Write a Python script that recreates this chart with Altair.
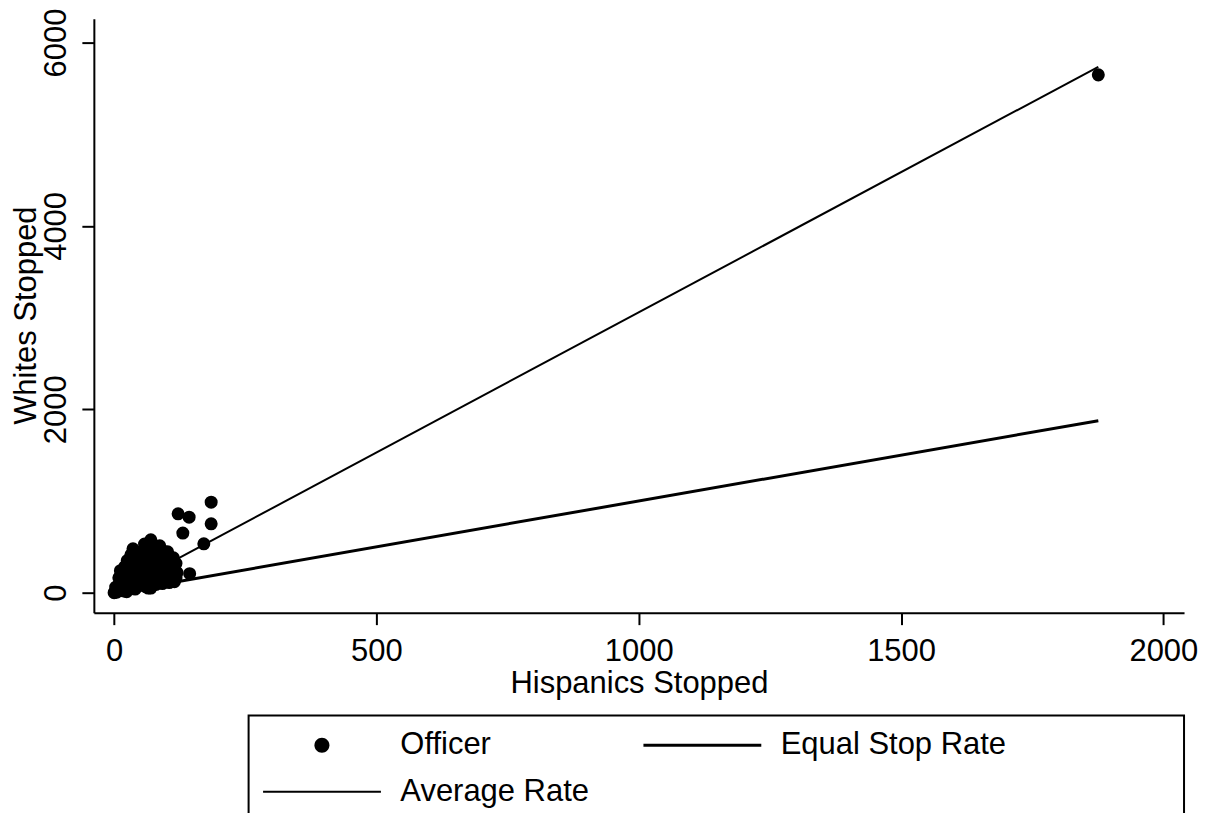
import altair as alt
import pandas as pd

# Officer-level counts (Hispanics stopped, Whites stopped)
hisp = [185, 122, 143, 185, 131, 171, 144, 1876,
        36, 70, 58, 87, 102, 113, 113, 113, 98, 80, 60, 40, 24, 0, 5, 9, 20, 32, 3, 12,
        20, 25, 30, 35, 40, 45, 50, 50, 55, 60, 60, 65, 70, 70, 75, 80, 80, 85, 90, 95,
        100, 105, 45, 30, 15, 10, 65, 90, 55, 85, 75, 100, 40, 25, 15, 110,
        5, 8, 12, 15, 18, 22, 28, 28, 33, 35, 38, 42, 45, 48, 52, 55, 58, 62, 62, 65,
        68, 72, 75, 78, 82, 85, 88, 92, 95, 98, 102, 105, 108, 110, 115, 118, 48, 58,
        82, 95, 20, 25, 12,
        90, 100, 108, 115, 118, 112, 95, 88, 78, 68, 52, 42, 35, 28, 18, 8, 70, 95,
        105, 120, 60, 50, 40, 30, 65]
white = [987, 860, 824, 751, 650, 533, 207, 5647,
         479, 577, 530, 512, 446, 381, 272, 174, 120, 90, 65, 40, 11, 0, 5, 163, 283, 414, 60, 30,
         100, 180, 240, 120, 300, 200, 380, 110, 260, 160, 430, 330, 220, 110, 400, 290, 170, 360, 230, 160,
         300, 220, 350, 60, 50, 90, 480, 420, 80, 120, 480, 380, 150, 130, 200, 140,
         30, 80, 130, 150, 20, 60, 90, 200, 160, 250, 350, 90, 130, 250, 180, 320, 220, 130, 390, 50,
         270, 170, 250, 350, 140, 220, 300, 100, 260, 200, 160, 330, 250, 200, 120, 160, 440, 480,
         470, 450, 230, 350, 240,
         150, 250, 180, 250, 320, 350, 330, 380, 420, 360, 300, 200, 190, 300, 110, 40, 50, 120,
         110, 220, 250, 150, 100, 160, 400]

# Reference lines (end points)
line_x = [0, 1876]
equal_y = [0, 1876]
avg_y = [0, 5735]

series = ["Officer", "Equal Stop Rate", "Average Rate"]

pts = pd.DataFrame({"hisp": hisp, "white": white})
eq = pd.DataFrame({"hisp": line_x, "white": equal_y})
av = pd.DataFrame({"hisp": line_x, "white": avg_y})
leg = pd.DataFrame({"hisp": [None] * 3, "white": [None] * 3, "series": series})
box = pd.DataFrame({"k": [0]})

FONT = "Liberation Sans"
FS = 31

x_enc = alt.X(
    "hisp:Q",
    scale=alt.Scale(domain=[-38.6, 2039.4], nice=False, zero=False),
    axis=alt.Axis(
        title="Hispanics Stopped", values=[0, 500, 1000, 1500, 2000], format="d", grid=False,
        domainColor="black", domainWidth=2, tickColor="black", tickWidth=2, tickSize=12,
        labelFont=FONT, labelFontSize=FS, labelColor="black", labelBaseline="alphabetic",
        labelPadding=36, labelFlush=False, labelOverlap=False,
        titleFont=FONT, titleFontSize=FS, titleFontWeight="normal", titleColor="black",
        titleBaseline="alphabetic", titleY=80, titleX=546, titleAlign="center",
    ),
)
y_enc = alt.Y(
    "white:Q",
    scale=alt.Scale(domain=[-217.7, 6260], nice=False, zero=False),
    axis=alt.Axis(
        title="Whites Stopped", values=[0, 2000, 4000, 6000], format="d", grid=False,
        domainColor="black", domainWidth=2, tickColor="black", tickWidth=2, tickSize=12,
        labelFont=FONT, labelFontSize=FS, labelColor="black", labelAngle=270,
        labelAlign="center", labelBaseline="alphabetic", labelPadding=16,
        labelFlush=False, labelOverlap=False,
        titleFont=FONT, titleFontSize=FS, titleFontWeight="normal", titleColor="black",
        titleAngle=270, titleBaseline="alphabetic", titleAlign="center", titleX=-58, titleY=297,
    ),
)

# legend symbol paths (unit = sqrt(symbolSize)/2 = 15 px)
dot_path = "M2.43,0A0.5,0.5 0 1,1 3.43,0A0.5,0.5 0 1,1 2.43,0Z"
thick_path = "M-1,-0.1H6.87V0.1H-1Z"
thin_path = "M-1,-0.067H6.87V0.067H-1Z"

points = alt.Chart(pts).mark_circle(size=170, color="black", opacity=1).encode(x=x_enc, y=y_enc)
equal_line = alt.Chart(eq).mark_line(color="black", strokeWidth=3).encode(x=x_enc, y=y_enc)
avg_line = alt.Chart(av).mark_line(color="black", strokeWidth=2).encode(x=x_enc, y=y_enc)
legend_layer = alt.Chart(leg).mark_point(filled=True, color="black", opacity=0, size=900).encode(
    x=x_enc, y=y_enc,
    shape=alt.Shape(
        "series:N",
        sort=series,
        scale=alt.Scale(domain=series, range=[dot_path, thick_path, thin_path]),
        legend=alt.Legend(
            title=None, orient="none", legendX=155, legendY=698, columns=2,
            direction="horizontal",
            symbolSize=900, symbolFillColor="black", symbolStrokeWidth=0, symbolOpacity=1,
            labelFont=FONT, labelFontSize=FS, labelColor="black", labelOffset=107,
            labelLimit=600, values=series,
            columnPadding=54, rowPadding=15, padding=14,
        ),
    ),
)
legend_box = alt.Chart(box).mark_rect(
    fill="white", fillOpacity=0, stroke="black", strokeWidth=2
).encode(
    x=alt.value(155), x2=alt.value(1092), y=alt.value(698), y2=alt.value(900)
)

chart = alt.layer(points, equal_line, avg_line, legend_layer, legend_box).properties(
    width=1092, height=595,
    autosize="none",
    padding={"left": 86, "top": 10, "right": 20, "bottom": 200},
    background="white",
).configure_view(stroke=None)

chart.save("out.html", embed_options={"renderer": "svg", "actions": False})
